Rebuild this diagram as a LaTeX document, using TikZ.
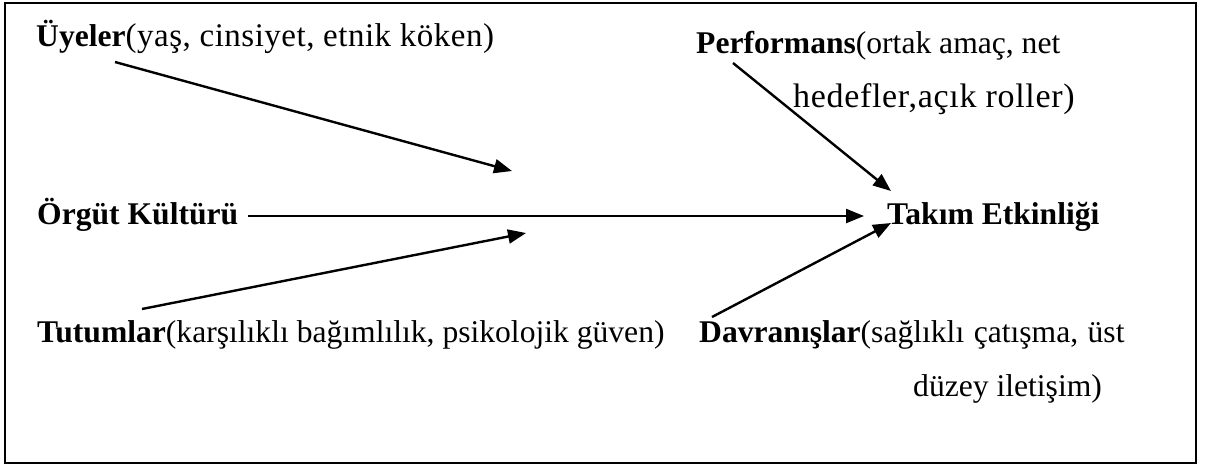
\documentclass[tikz,border=0pt]{standalone}
\usepackage{fontspec}
\setmainfont{Liberation Serif}
\usetikzlibrary{arrows.meta}
\tikzset{
  lbl/.style={anchor=base west, inner sep=0pt, font=\fontsize{31.6}{38}\selectfont},
  conn/.style={line width=2.4pt, -{Triangle[length=18pt,width=14pt]}},
  frame/.style={line width=2pt}
}
\begin{document}
\begin{tikzpicture}[x=1pt,y=-1pt]
\useasboundingbox (0,0) rectangle (1208,467);
\draw[frame] (5,3) rectangle (1196,463);
\node[lbl] (uyeler) at (36,46) {\textbf{Üyeler}{\fontsize{33}{38}\selectfont\addfontfeature{LetterSpace=1.5}(yaş, cinsiyet, etnik köken)}};
\node[lbl] (perf1) at (696,53) {\textbf{Performans}(ortak amaç, net};
\node[lbl] (perf2) at (793,107) {\fontsize{34}{40}\selectfont\addfontfeature{LetterSpace=2}hedefler,açık roller)};
\node[lbl] (orgut) at (37,224) {\textbf{Örgüt Kültürü}};
\node[lbl] (takim) at (887,224) {\textbf{Takım Etkinliği}};
\node[lbl] (tutum) at (37,342) {\textbf{Tutumlar}(karşılıklı bağımlılık, psikolojik güven)};
\node[lbl] (davr1) at (699,342) {\textbf{Davranışlar}(sağlıklı\hspace{0.3em}çatışma,\hspace{0.3em}üst};
\node[lbl] (davr2) at (913,396) {düzey iletişim)};
\coordinate (u0) at (115,62);
\coordinate (u1) at (512,171);
\coordinate (o0) at (248,216);
\coordinate (o1) at (864,216);
\coordinate (t0) at (142,309);
\coordinate (t1) at (526,233);
\coordinate (p0) at (733,63);
\coordinate (p1) at (891,191);
\coordinate (d0) at (712,317);
\coordinate (d1) at (891,223);
\draw[conn] (u0) -- (u1);
\draw[conn] (o0) -- (o1);
\draw[conn] (t0) -- (t1);
\draw[conn] (p0) -- (p1);
\draw[conn] (d0) -- (d1);
\end{tikzpicture}
\end{document}
